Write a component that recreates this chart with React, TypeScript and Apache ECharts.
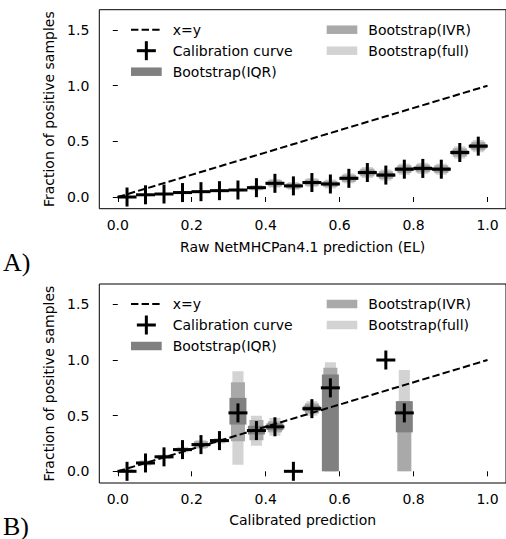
import React, { useEffect, useRef } from "react";
import * as echarts from "echarts";

// ---------- data ----------
const xTicks = [0, 0.2, 0.4, 0.6, 0.8, 1.0];
const yTicks = [0, 0.5, 1.0, 1.5];
const identityLine = [0, 1];

// Panel A: raw NetMHCPan4.1 prediction
const binsA = [0.025, 0.075, 0.125, 0.175, 0.225, 0.275, 0.325, 0.375, 0.425, 0.475, 0.525, 0.575, 0.625, 0.675, 0.725, 0.775, 0.825, 0.875, 0.925, 0.975];
const calibA = [0.0, 0.02, 0.027, 0.04, 0.048, 0.057, 0.063, 0.084, 0.123, 0.1, 0.13, 0.117, 0.168, 0.22, 0.197, 0.25, 0.257, 0.25, 0.4, 0.457];
const fullLoA = [0.0, 0.01, 0.017, 0.03, 0.038, 0.045, 0.051, 0.059, 0.083, 0.065, 0.09, 0.077, 0.123, 0.17, 0.147, 0.2, 0.207, 0.2, 0.345, 0.402];
const fullHiA = [0.01, 0.03, 0.037, 0.05, 0.058, 0.069, 0.075, 0.109, 0.163, 0.135, 0.17, 0.157, 0.213, 0.27, 0.247, 0.3, 0.307, 0.3, 0.455, 0.512];
const ivrLoA = [0.0, 0.013, 0.02, 0.033, 0.041, 0.049, 0.055, 0.066, 0.095, 0.075, 0.102, 0.089, 0.136, 0.185, 0.162, 0.215, 0.222, 0.215, 0.362, 0.419];
const ivrHiA = [0.007, 0.027, 0.034, 0.047, 0.055, 0.065, 0.071, 0.102, 0.151, 0.125, 0.158, 0.145, 0.2, 0.255, 0.232, 0.285, 0.292, 0.285, 0.438, 0.495];
const iqrLoA = [0.0, 0.017, 0.024, 0.037, 0.045, 0.053, 0.059, 0.075, 0.109, 0.088, 0.116, 0.103, 0.152, 0.202, 0.179, 0.232, 0.239, 0.232, 0.38, 0.437];
const iqrHiA = [0.003, 0.023, 0.03, 0.043, 0.051, 0.061, 0.067, 0.093, 0.137, 0.112, 0.144, 0.131, 0.184, 0.238, 0.215, 0.268, 0.275, 0.268, 0.42, 0.477];

// Panel B: calibrated prediction (null = no bootstrap box)
const binsB = [0.025, 0.075, 0.125, 0.175, 0.225, 0.275, 0.325, 0.375, 0.425, 0.475, 0.525, 0.575, 0.725, 0.775];
const calibB = [0.0, 0.075, 0.13, 0.195, 0.24, 0.276, 0.525, 0.366, 0.4, 0.0, 0.563, 0.75, 1.0, 0.525];
const fullLoB = [0.0, 0.05, 0.11, 0.17, 0.2, 0.25, 0.06, 0.23, 0.32, null, 0.5, 0.0, null, 0.0];
const fullHiB = [0.02, 0.1, 0.15, 0.22, 0.28, 0.3, 0.9, 0.5, 0.48, null, 0.63, 0.98, null, 0.91];
const ivrLoB = [0.0, 0.06, 0.115, 0.18, 0.21, 0.26, 0.27, 0.28, 0.35, null, 0.52, 0.0, null, 0.0];
const ivrHiB = [0.015, 0.09, 0.145, 0.21, 0.27, 0.29, 0.8, 0.46, 0.45, null, 0.61, 0.93, null, 0.63];
const iqrLoB = [0.0, 0.065, 0.12, 0.185, 0.225, 0.265, 0.42, 0.33, 0.37, null, 0.54, 0.0, null, 0.35];
const iqrHiB = [0.01, 0.085, 0.14, 0.205, 0.255, 0.285, 0.66, 0.41, 0.43, null, 0.59, 0.87, null, 0.63];

const legendLabels = ["x=y", "Calibration curve", "Bootstrap(IQR)", "Bootstrap(IVR)", "Bootstrap(full)"];

// ---------- style ----------
const FONT = "DejaVu Sans";
const FS = 14;
const C_FULL = "#d3d3d3";
const C_IVR = "#a9a9a9";
const C_IQR = "#808080";
const W_FULL = 0.03;
const W_IVR = 0.038;
const W_IQR = 0.046;
const PLUS = 9.5;
const DASH = [7.4, 3.2];

const GRID_LEFT = 99.3;
const GRID_W = 409;
const GRID_TOPS = [9.7, 284];
const GRID_H = 199;

function boxes(bins: number[], lo: (number | null)[], hi: (number | null)[]) {
  const out: number[][] = [];
  bins.forEach((b, i) => {
    const l = lo[i];
    const h = hi[i];
    if (l !== null && h !== null) out.push([b, l as number, h as number]);
  });
  return out;
}

function boxSeries(idx: number, data: number[][], width: number, color: string, z: number) {
  return {
    type: "custom",
    xAxisIndex: idx,
    yAxisIndex: idx,
    silent: true,
    z,
    data,
    encode: { x: 0, y: [1, 2] },
    renderItem: (_p: any, api: any) => {
      const x = api.value(0);
      const lo = api.value(1);
      const hi = api.value(2);
      const p1 = api.coord([x - width / 2, hi]);
      const p2 = api.coord([x + width / 2, lo]);
      return {
        type: "rect",
        shape: { x: p1[0], y: p1[1], width: p2[0] - p1[0], height: p2[1] - p1[1] },
        style: { fill: color },
      };
    },
  };
}

function plusSeries(idx: number, bins: number[], vals: number[]) {
  return {
    type: "custom",
    xAxisIndex: idx,
    yAxisIndex: idx,
    silent: true,
    z: 6,
    data: bins.map((b, i) => [b, vals[i]]),
    encode: { x: 0, y: 1 },
    renderItem: (_p: any, api: any) => {
      const c = api.coord([api.value(0), api.value(1)]);
      return {
        type: "group",
        children: [
          { type: "line", shape: { x1: c[0] - PLUS, y1: c[1], x2: c[0] + PLUS, y2: c[1] }, style: { stroke: "#000", lineWidth: 3 } },
          { type: "line", shape: { x1: c[0], y1: c[1] - PLUS, x2: c[0], y2: c[1] + PLUS }, style: { stroke: "#000", lineWidth: 3 } },
        ],
      };
    },
  };
}

function lineSeries(idx: number) {
  return {
    type: "line",
    xAxisIndex: idx,
    yAxisIndex: idx,
    silent: true,
    z: 5,
    symbol: "none",
    data: identityLine.map((v) => [v, v]),
    lineStyle: { color: "#000", width: 2, type: DASH },
  };
}

function legendGraphic(top: number) {
  const txt = (x: number, y: number, t: string) => ({
    type: "text",
    x,
    y,
    style: { text: t, fill: "#000", font: `${FS}px "${FONT}"`, textVerticalAlign: "middle", textAlign: "left" },
  });
  const r1 = top + 20;
  const r2 = top + 41;
  const r3 = top + 62;
  const hx0 = 131;
  const hx1 = 161.7;
  const cx0 = 326.7;
  const cx1 = 357.3;
  const rh = 8.5;
  return [
    { type: "line", shape: { x1: hx0, y1: r1, x2: hx1, y2: r1 }, style: { stroke: "#000", lineWidth: 2, lineDash: DASH } },
    txt(172.7, r1, legendLabels[0]),
    { type: "line", shape: { x1: (hx0 + hx1) / 2 - PLUS, y1: r2, x2: (hx0 + hx1) / 2 + PLUS, y2: r2 }, style: { stroke: "#000", lineWidth: 3 } },
    { type: "line", shape: { x1: (hx0 + hx1) / 2, y1: r2 - PLUS, x2: (hx0 + hx1) / 2, y2: r2 + PLUS }, style: { stroke: "#000", lineWidth: 3 } },
    txt(172.7, r2, legendLabels[1]),
    { type: "rect", shape: { x: hx0, y: r3 - rh / 2, width: hx1 - hx0, height: rh }, style: { fill: C_IQR } },
    txt(172.7, r3, legendLabels[2]),
    { type: "rect", shape: { x: cx0, y: r1 - rh / 2, width: cx1 - cx0, height: rh }, style: { fill: C_IVR } },
    txt(368.3, r1, legendLabels[3]),
    { type: "rect", shape: { x: cx0, y: r2 - rh / 2, width: cx1 - cx0, height: rh }, style: { fill: C_FULL } },
    txt(368.3, r2, legendLabels[4]),
  ];
}

export default function App() {
  const ref = useRef<HTMLDivElement>(null);
  useEffect(() => {
    if (!ref.current) return;
    const chart = echarts.init(ref.current, undefined, { renderer: "svg" });
    const xNames = ["Raw NetMHCPan4.1 prediction (EL)", "Calibrated prediction"];
    const labelStyle = { color: "#000", fontFamily: FONT, fontSize: FS };
    const xAxes = [0, 1].map((i) => ({
      type: "value",
      gridIndex: i,
      min: -0.05,
      max: 1.05,
      name: xNames[i],
      nameLocation: "middle",
      nameGap: 31 - i,
      nameTextStyle: labelStyle,
      axisLine: { show: false },
      axisTick: { show: true, length: 5, customValues: xTicks, lineStyle: { color: "#000", width: 1 } },
      axisLabel: { ...labelStyle, margin: 9, customValues: xTicks, formatter: (v: number) => v.toFixed(1) },
      splitLine: { show: false },
    }));
    const yAxes = [0, 1].map((i) => ({
      type: "value",
      gridIndex: i,
      min: -0.105,
      max: 1.683,
      name: "Fraction of positive samples",
      nameLocation: "middle",
      nameRotate: 90,
      nameGap: 43,
      nameTextStyle: labelStyle,
      axisLine: { show: false },
      axisTick: { show: true, length: 5, customValues: yTicks, lineStyle: { color: "#000", width: 1 } },
      axisLabel: { ...labelStyle, margin: 10, customValues: yTicks, formatter: (v: number) => v.toFixed(1) },
      splitLine: { show: false },
    }));
    chart.setOption({
      animation: false,
      backgroundColor: "#fff",
      grid: GRID_TOPS.map((t) => ({
        left: GRID_LEFT,
        top: t,
        width: GRID_W,
        height: GRID_H,
        show: true,
        borderColor: "#000",
        borderWidth: 1,
        backgroundColor: "transparent",
      })),
      xAxis: xAxes,
      yAxis: yAxes,
      series: [
        boxSeries(0, boxes(binsA, fullLoA, fullHiA), W_FULL, C_FULL, 1),
        boxSeries(0, boxes(binsA, ivrLoA, ivrHiA), W_IVR, C_IVR, 2),
        boxSeries(0, boxes(binsA, iqrLoA, iqrHiA), W_IQR, C_IQR, 3),
        lineSeries(0),
        plusSeries(0, binsA, calibA),
        boxSeries(1, boxes(binsB, fullLoB, fullHiB), W_FULL, C_FULL, 1),
        boxSeries(1, boxes(binsB, ivrLoB, ivrHiB), W_IVR, C_IVR, 2),
        boxSeries(1, boxes(binsB, iqrLoB, iqrHiB), W_IQR, C_IQR, 3),
        lineSeries(1),
        plusSeries(1, binsB, calibB),
      ],
      graphic: [
        ...legendGraphic(GRID_TOPS[0]),
        ...legendGraphic(GRID_TOPS[1]),
        { type: "text", x: 3, y: 262, style: { text: "A)", fill: "#000", font: '26px "Liberation Serif"', textVerticalAlign: "middle" } },
        { type: "text", x: 3, y: 526, style: { text: "B)", fill: "#000", font: '26px "Liberation Serif"', textVerticalAlign: "middle" } },
      ],
    });
    return () => chart.dispose();
  }, []);
  return <div ref={ref} style={{ position: "fixed", left: 0, top: 0, width: 506, height: 539 }} />;
}
